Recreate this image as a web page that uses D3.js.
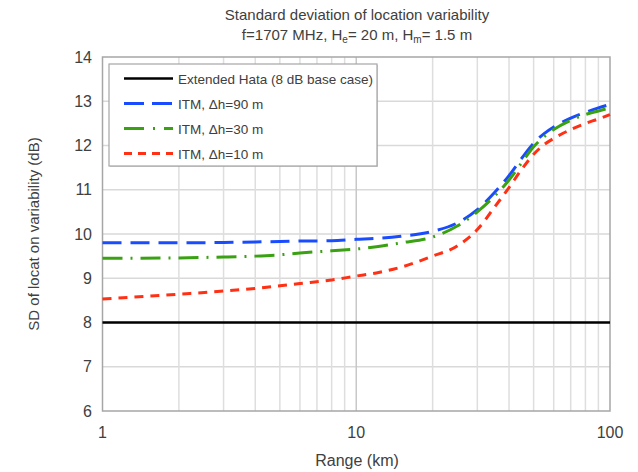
<!DOCTYPE html>
<html>
<head>
<meta charset="utf-8">
<script src="https://cdn.jsdelivr.net/npm/d3@7"></script>
<style>
  body { margin: 0; background: #fff; }
  svg { font-family: "Liberation Sans", Arial, sans-serif; }
</style>
</head>
<body>
<svg width="638" height="472"></svg>
<script>
// range points (km)
var ranges = [1, 2, 3, 4, 5, 6, 8, 10, 12, 15, 20, 25, 30, 35, 40, 45, 50, 55, 60, 70, 80, 90, 100];
var itm90 = [9.8, 9.8, 9.81, 9.82, 9.83, 9.84, 9.85, 9.88, 9.9, 9.95, 10.06, 10.25, 10.55, 10.93, 11.32, 11.72, 12.05, 12.27, 12.42, 12.62, 12.75, 12.85, 12.93];
var itm30 = [9.45, 9.46, 9.48, 9.5, 9.53, 9.57, 9.62, 9.66, 9.71, 9.8, 9.93, 10.18, 10.5, 10.85, 11.22, 11.62, 11.97, 12.2, 12.36, 12.57, 12.7, 12.78, 12.85];
var itm10 = [8.53, 8.64, 8.71, 8.77, 8.83, 8.88, 8.96, 9.05, 9.12, 9.25, 9.5, 9.73, 10.1, 10.6, 11.05, 11.47, 11.8, 12.02, 12.16, 12.36, 12.5, 12.6, 12.7];
var hata = [8, 8]; // at range 1 and 100
var yTicks = [6, 7, 8, 9, 10, 11, 12, 13, 14];
var xTicks = [1, 10, 100];

var series = [
  {name: 'Extended Hata (8 dB base case)', x: [1, 100], y: hata, color: '#000000', dash: null, width: 2.5, legDash: null},
  {name: 'ITM, \u0394h=90 m', x: ranges, y: itm90, color: '#1a4cff', dash: '19,9', width: 3, legDash: '20,8'},
  {name: 'ITM, \u0394h=30 m', x: ranges, y: itm30, color: '#3aa212', dash: '20,8,2,8', width: 3, legDash: '20,9,2,9'},
  {name: 'ITM, \u0394h=10 m', x: ranges, y: itm10, color: '#ff3014', dash: '9,7', width: 3, legDash: '8,6'}
];

var svg = d3.select('svg');
var pLeft = 102.5, pRight = 610, pTop = 57, pBottom = 411;

var x = d3.scaleLog().domain([1, 100]).range([pLeft, pRight]);
var y = d3.scaleLinear().domain([6, 14]).range([pBottom, pTop]);

// horizontal grid
svg.append('g').selectAll('line')
  .data(yTicks.slice(1, -1))
  .enter().append('line')
  .attr('x1', pLeft).attr('x2', pRight)
  .attr('y1', d => y(d)).attr('y2', d => y(d))
  .attr('stroke', '#d9d9d9').attr('stroke-width', 1.5);

// vertical grid (minor + major)
var vgrid = [];
[1, 10].forEach(dec => { for (var k = 2; k <= 9; k++) vgrid.push(dec * k); });
svg.append('g').selectAll('line')
  .data(vgrid)
  .enter().append('line')
  .attr('x1', d => x(d)).attr('x2', d => x(d))
  .attr('y1', pTop).attr('y2', pBottom)
  .attr('stroke', '#dedede').attr('stroke-width', 1.5);
svg.append('line')
  .attr('x1', x(10)).attr('x2', x(10))
  .attr('y1', pTop).attr('y2', pBottom)
  .attr('stroke', '#c8c8c8').attr('stroke-width', 1.5);

// frame
svg.append('rect')
  .attr('x', pLeft).attr('y', pTop)
  .attr('width', pRight - pLeft).attr('height', pBottom - pTop)
  .attr('fill', 'none').attr('stroke', '#a6a6a6').attr('stroke-width', 1.5);

// tick labels
svg.append('g').selectAll('text')
  .data(yTicks)
  .enter().append('text')
  .attr('x', 92).attr('y', d => y(d) + 5.5)
  .attr('text-anchor', 'end')
  .attr('font-size', 16).attr('fill', '#404040')
  .text(d => d);

svg.append('g').selectAll('text')
  .data(xTicks)
  .enter().append('text')
  .attr('x', d => x(d)).attr('y', 438)
  .attr('text-anchor', 'middle')
  .attr('font-size', 16).attr('fill', '#404040')
  .text(d => d);

// lines
var line = d3.line()
  .x(d => x(d[0]))
  .y(d => y(d[1]))
  .curve(d3.curveMonotoneX);

series.forEach(s => {
  var pts = s.x.map((r, i) => [r, s.y[i]]);
  svg.append('path')
    .datum(pts)
    .attr('d', line)
    .attr('fill', 'none')
    .attr('stroke', s.color)
    .attr('stroke-width', s.width)
    .attr('stroke-dasharray', s.dash);
});

// legend
var leg = svg.append('g');
leg.append('rect')
  .attr('x', 110).attr('y', 65)
  .attr('width', 268).attr('height', 102)
  .attr('fill', '#a6a6a6').attr('opacity', 0.5);
leg.append('rect')
  .attr('x', 109).attr('y', 64)
  .attr('width', 268).attr('height', 102)
  .attr('fill', '#fff').attr('stroke', '#a6a6a6').attr('stroke-width', 1.2);

series.forEach((s, i) => {
  var ly = 78.5 + i * 25;
  leg.append('line')
    .attr('x1', 124).attr('x2', 173)
    .attr('y1', ly).attr('y2', ly)
    .attr('stroke', s.color)
    .attr('stroke-width', s.width)
    .attr('stroke-dasharray', s.legDash);
  leg.append('text')
    .attr('x', 178).attr('y', ly + 5)
    .attr('font-size', 13.5).attr('fill', '#404040')
    .text(s.name);
});

// titles
svg.append('text')
  .attr('x', 357).attr('y', 20)
  .attr('text-anchor', 'middle')
  .attr('font-size', 15).attr('fill', '#404040')
  .text('Standard deviation of location variability');

var sub = svg.append('text')
  .attr('x', 357).attr('y', 40)
  .attr('text-anchor', 'middle')
  .attr('font-size', 15).attr('fill', '#404040');
sub.append('tspan').text('f=1707 MHz, H');
sub.append('tspan').attr('font-size', 10).attr('dy', 3).text('e');
sub.append('tspan').attr('dy', -3).text('= 20 m, H');
sub.append('tspan').attr('font-size', 10).attr('dy', 3).text('m');
sub.append('tspan').attr('dy', -3).text('= 1.5 m');

svg.append('text')
  .attr('x', 357).attr('y', 466)
  .attr('text-anchor', 'middle')
  .attr('font-size', 16).attr('fill', '#404040')
  .text('Range (km)');

svg.append('text')
  .attr('transform', 'translate(39,' + ((pTop + pBottom) / 2) + ') rotate(-90)')
  .attr('text-anchor', 'middle')
  .attr('font-size', 15).attr('fill', '#404040')
  .text('SD of locat on variability (dB)');
</script>
</body>
</html>
